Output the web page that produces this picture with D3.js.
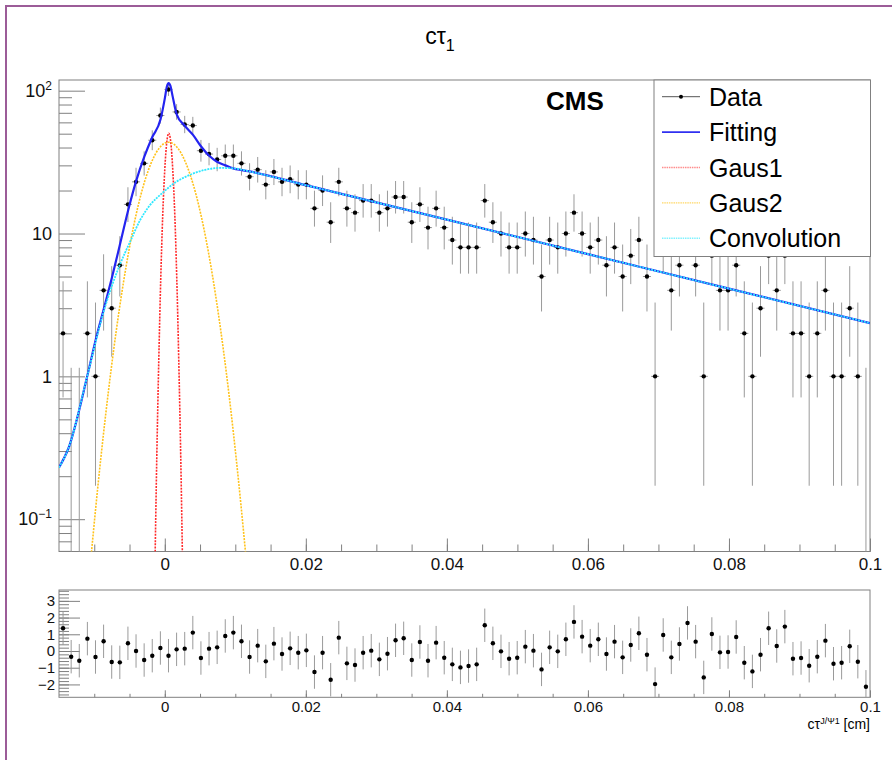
<!DOCTYPE html>
<html>
<head>
<meta charset="utf-8">
<script src="https://cdn.jsdelivr.net/npm/d3@7"></script>
<style>
  body { margin: 0; background: #fff; }
  svg { display: block; font-family: "Liberation Sans", Arial, Helvetica, sans-serif; }
</style>
</head>
<body>
<div id="chart"></div>
<script>

// histogram binning (100 bins)
var xMin = -0.015, xMax = 0.1, binWidth = 0.00115;

// events per bin
var counts = [2, 0, 0, 2, 1, 4, 3, 6, 16, 23,
              31, 45, 67, 102, 71, 58, 57, 38, 36, 33,
              35, 35, 31, 25, 28, 22, 27, 23, 24, 22,
              22, 15, 20, 12, 23, 15, 14, 17, 17, 14,
              15, 18, 18, 12, 16, 11, 15, 11, 9, 8,
              8, 8, 17, 12, 10, 8, 8, 10, 9, 5,
              9, 8, 10, 14, 10, 8, 9, 6, 8, 5,
              7, 9, 5, 1, 8, 4, 6, 10, 6, 1,
              7, 4, 4, 6, 2, 1, 3, 7, 4, 7,
              2, 2, 1, 2, 4, 1, 1, 3, 1, 0];

// pull per bin
var pulls = [1.36, -0.34, -0.58, 0.74, -0.36, 0.58, -0.66, -0.68, 0.46, 0.00,
             -0.54, -0.28, 0.18, -0.28, 0.10, 0.14, 1.10, -0.42, 0.14, 0.22,
             0.90, 1.10, 0.58, -0.36, 0.32, -0.62, 0.44, -0.18, 0.16, -0.10,
             0.04, -1.26, -0.10, -1.72, 0.80, -0.74, -0.84, -0.10, 0.02, -0.50,
             -0.16, 0.64, 0.76, -0.54, 0.54, -0.58, 0.50, -0.40, -0.80, -0.98,
             -0.90, -0.80, 1.54, 0.46, -0.02, -0.46, -0.40, 0.26, 0.02, -1.10,
             0.22, -0.02, 0.70, 1.74, 0.86, 0.32, 0.70, -0.18, 0.56, -0.38,
             0.36, 1.06, -0.22, -1.98, 0.96, -0.38, 0.42, 1.68, 0.56, -1.58,
             1.02, -0.08, -0.06, 0.84, -0.70, -1.22, -0.22, 1.36, 0.30, 1.46,
             -0.46, -0.42, -0.88, -0.34, 0.62, -0.76, -0.70, 0.28, -0.64, -2.14];

// curves [x, value]
var fittingCurve = [[-0.0150, 0.23], [-0.0137, 0.31], [-0.0110, 1.0], [-0.0098, 1.8], [-0.0087, 2.9],
                    [-0.0075, 4.9], [-0.0064, 8.2], [-0.0052, 14.5], [-0.0041, 23], [-0.0029, 34.5],
                    [-0.0018, 47], [-0.0006, 63], [0.0000, 88], [0.0003, 107], [0.00055, 113],
                    [0.0008, 108], [0.0011, 92], [0.0017, 68], [0.0028, 57], [0.0040, 49],
                    [0.0051, 41], [0.0063, 35], [0.0074, 31.8], [0.0086, 30], [0.0097, 28.6],
                    [0.0109, 27.8], [0.0120, 27.2], [0.02, 21.8], [0.04, 12.5], [0.06, 7.17],
                    [0.08, 4.11], [0.1, 2.36]];

var gaus1Curve = [[-0.00142, 0.039], [-0.00114, 0.262], [-0.00085, 1.31], [-0.00057, 4.87],
                  [-0.00029, 13.5], [0.0000, 28.1], [0.00028, 43.5], [0.000565, 50.4],
                  [0.00085, 43.5], [0.00113, 28.1], [0.00142, 13.5], [0.0017, 4.87],
                  [0.00198, 1.31], [0.00227, 0.262], [0.00255, 0.039]];

var gaus2Curve = [[-0.01082, 0.035], [-0.0094, 0.187], [-0.00798, 0.794], [-0.00656, 2.7],
                  [-0.00514, 7.35], [-0.00373, 16.0], [-0.00231, 27.9], [-0.00089, 39.0],
                  [0.00053, 43.6], [0.00195, 39.0], [0.00336, 27.9], [0.00478, 16.0],
                  [0.0062, 7.35], [0.00762, 2.7], [0.00904, 0.794], [0.01045, 0.187],
                  [0.01187, 0.035]];

var convCurve = [[-0.0150, 0.23], [-0.0137, 0.31], [-0.0110, 1.0], [-0.0087, 2.8], [-0.0075, 4.3],
                 [-0.0064, 6.0], [-0.0049, 8.8], [-0.0035, 12.4], [-0.0021, 15.8], [-0.0003, 19.3],
                 [0.0015, 22.8], [0.0036, 25.8], [0.0057, 27.9], [0.0078, 28.8], [0.0100, 28.5],
                 [0.0120, 27.2], [0.02, 21.8], [0.04, 12.5], [0.06, 7.17], [0.08, 4.11], [0.1, 2.36]];

// tick labels
var xTickValues = [0, 0.02, 0.04, 0.06, 0.08, 0.1];
var yLogTicks = [0.1, 1, 10, 100];
var yLogBase = ["10", "1", "10", "10"];
var yLogExp = ["\u22121", "", "", "2"];
var pullTicks = [-2, -1, 0, 1, 2, 3];

var legendNames = ["Data", "Fitting", "Gaus1", "Gaus2", "Convolution"];

var W = 892, H = 760;
var frameColor = "#808080";
var barColor = "#9a9a9a";

// pad geometry (avoid the global "top")
var padL = 59, padR = 870, padT = 80, padB = 551.5;
var pTop = 590, pBottom = 697.3;

var svg = d3.select("#chart").append("svg")
    .attr("width", W)
    .attr("height", H);

// canvas border
svg.append("path")
    .attr("d", "M6,760 L6,6 L892,6")
    .attr("fill", "none")
    .attr("stroke", "#9c5c98")
    .attr("stroke-width", 2);

// title
var title = svg.append("text")
    .attr("x", 440)
    .attr("y", 44)
    .attr("text-anchor", "middle")
    .attr("font-size", 23)
    .text("c\u03c4");
title.append("tspan")
    .attr("font-size", 16)
    .attr("dy", 7)
    .text("1");

// ---------- upper pad ----------
var x = d3.scaleLinear().domain([xMin, xMax]).range([padL, padR]);
var y = d3.scaleLog().domain([0.0594, 118.8]).range([padB, padT]);

svg.append("clipPath").attr("id", "clipTop")
  .append("rect")
    .attr("x", padL).attr("y", padT)
    .attr("width", padR - padL).attr("height", padB - padT);

// minor x ticks
svg.append("g")
    .attr("transform", "translate(0," + padB + ")")
    .call(d3.axisBottom(x)
        .tickValues(d3.range(-0.01, 0.1001, 0.005))
        .tickSize(-7)
        .tickFormat(""))
    .call(styleAxis);

// major x ticks + labels
svg.append("g")
    .attr("transform", "translate(0," + padB + ")")
    .call(d3.axisBottom(x)
        .tickValues(xTickValues)
        .tickSize(-13)
        .tickPadding(6)
        .tickFormat(d3.format("~g")))
    .call(styleAxis)
    .selectAll("text").attr("font-size", 17);

// minor y ticks
var yMinor = [];
[0.01, 0.1, 1, 10].forEach(function(dec) {
    for (var k = 2; k <= 9; k++) {
        var v = dec * k;
        if (v > 0.0594 && v < 118.8) yMinor.push(v);
    }
});
svg.append("g")
    .attr("transform", "translate(" + padL + ",0)")
    .call(d3.axisLeft(y)
        .tickValues(yMinor)
        .tickSize(-13)
        .tickFormat(""))
    .call(styleAxis);

// major y ticks + labels
var yAxisG = svg.append("g")
    .attr("transform", "translate(" + padL + ",0)")
    .call(d3.axisLeft(y)
        .tickValues(yLogTicks)
        .tickSize(-26)
        .tickPadding(7)
        .tickFormat(function(d, i) { return yLogBase[i]; }))
    .call(styleAxis);
yAxisG.selectAll("text")
    .attr("font-size", 18)
    .each(function(d, i) {
        if (yLogExp[i] != "") {
            d3.select(this).append("tspan")
                .attr("font-size", 12)
                .attr("dy", "-0.6em")
                .text(yLogExp[i]);
        }
    });

// frame
svg.append("rect")
    .attr("x", padL).attr("y", padT)
    .attr("width", padR - padL).attr("height", padB - padT)
    .attr("fill", "none")
    .attr("stroke", frameColor)
    .attr("stroke-width", 1);

// poisson interval (approximate Garwood, RooFit one-sided for zero)
function poissonLow(n) {
    if (n == 0) return 0;
    return n * Math.pow(1 - 1 / (9 * n) - 1 / (3 * Math.sqrt(n)), 3);
}
function poissonHigh(n) {
    if (n == 0) return 1.148;
    var m = n + 1;
    return m * Math.pow(1 - 1 / (9 * m) + 1 / (3 * Math.sqrt(m)), 3);
}

var bins = counts.map(function(c, i) {
    return { lo: xMin + i * binWidth, mid: xMin + (i + 0.5) * binWidth, hi: xMin + (i + 1) * binWidth, n: c, pull: pulls[i] };
});

var plot = svg.append("g").attr("clip-path", "url(#clipTop)");

// vertical error bars
plot.selectAll(".ebar")
    .data(bins)
    .enter().append("line")
    .attr("class", "ebar")
    .attr("x1", function(d) { return x(d.mid); })
    .attr("x2", function(d) { return x(d.mid); })
    .attr("y1", function(d) { return y(poissonHigh(d.n)); })
    .attr("y2", function(d) { return d.n == 0 ? padB + 5 : Math.min(y(poissonLow(d.n)), padB + 5); })
    .attr("stroke", barColor)
    .attr("stroke-width", 1);

// horizontal (bin width) bars
plot.selectAll(".hbar")
    .data(bins.filter(function(d) { return d.n > 0; }))
    .enter().append("line")
    .attr("class", "hbar")
    .attr("x1", function(d) { return x(d.lo); })
    .attr("x2", function(d) { return x(d.hi); })
    .attr("y1", function(d) { return y(d.n); })
    .attr("y2", function(d) { return y(d.n); })
    .attr("stroke", barColor)
    .attr("stroke-width", 1);

// markers
plot.selectAll(".dot")
    .data(bins.filter(function(d) { return d.n > 0; }))
    .enter().append("circle")
    .attr("class", "dot")
    .attr("cx", function(d) { return x(d.mid); })
    .attr("cy", function(d) { return y(d.n); })
    .attr("r", 2.2)
    .attr("fill", "#000");

// define the curve line
var curveLine = d3.line()
    .x(function(d) { return x(d[0]); })
    .y(function(d) { return y(d[1]); })
    .curve(d3.curveMonotoneX);

var styles = {
    fit:   { color: "#2424f0", width: 2.2, dash: null, legColor: "#3030f0" },
    gaus1: { color: "#ff2a2a", width: 1.6, dash: "2,1.2", legColor: "#ff8c8c" },
    gaus2: { color: "#ffc21a", width: 1.6, dash: "2,1.2", legColor: "#ffd866" },
    conv:  { color: "#2ee8ff", width: 1.8, dash: "2,1", legColor: "#80f2ff" }
};

function addCurve(data, st) {
    var p = plot.append("path")
        .datum(data)
        .attr("d", curveLine)
        .attr("fill", "none")
        .attr("stroke", st.color)
        .attr("stroke-width", st.width);
    if (st.dash) p.attr("stroke-dasharray", st.dash);
}

addCurve(fittingCurve, styles.fit);
addCurve(gaus1Curve, styles.gaus1);
addCurve(gaus2Curve, styles.gaus2);
addCurve(convCurve, styles.conv);

// CMS label
svg.append("text")
    .attr("x", 546)
    .attr("y", 110)
    .attr("font-size", 26)
    .attr("font-weight", "bold")
    .text("CMS");

// legend
var legX = 654, legY = 80, legW = 216.5, legH = 176.5;
var leg = svg.append("g");
leg.append("rect")
    .attr("x", legX).attr("y", legY)
    .attr("width", legW).attr("height", legH)
    .attr("fill", "#fff")
    .attr("stroke", frameColor)
    .attr("stroke-width", 1);

var legStyles = [null, styles.fit, styles.gaus1, styles.gaus2, styles.conv];
legendNames.forEach(function(name, i) {
    var cy = 96.7 + i * 35.4;
    var ln = leg.append("line")
        .attr("x1", 662).attr("x2", 700)
        .attr("y1", cy).attr("y2", cy);
    if (i == 0) {
        ln.attr("stroke", "#555").attr("stroke-width", 1);
        leg.append("circle").attr("cx", 681).attr("cy", cy).attr("r", 2).attr("fill", "#000");
    } else {
        var st = legStyles[i];
        ln.attr("stroke", st.legColor)
          .attr("stroke-width", i == 1 ? 1.6 : 1.4);
        if (st.dash) ln.attr("stroke-dasharray", "1.5,0.8");
    }
    leg.append("text")
        .attr("x", 709)
        .attr("y", cy + 9)
        .attr("font-size", 25)
        .text(name);
});

// ---------- lower pad (pulls) ----------
var yp = d3.scaleLinear().domain([-2.77, 3.65]).range([pBottom, pTop]);

svg.append("clipPath").attr("id", "clipBot")
  .append("rect")
    .attr("x", padL).attr("y", pTop)
    .attr("width", padR - padL).attr("height", pBottom - pTop);

svg.append("g")
    .attr("transform", "translate(0," + pBottom + ")")
    .call(d3.axisBottom(x)
        .tickValues(d3.range(-0.01, 0.1001, 0.005))
        .tickSize(-3.5)
        .tickFormat(""))
    .call(styleAxis);

svg.append("g")
    .attr("transform", "translate(0," + pBottom + ")")
    .call(d3.axisBottom(x)
        .tickValues(xTickValues)
        .tickSize(-7)
        .tickPadding(4)
        .tickFormat(d3.format("~g")))
    .call(styleAxis)
    .selectAll("text").attr("font-size", 15);

svg.append("g")
    .attr("transform", "translate(" + padL + ",0)")
    .call(d3.axisLeft(yp)
        .tickValues(d3.range(-2.6, 3.61, 0.2))
        .tickSize(-10)
        .tickFormat(""))
    .call(styleAxis);

svg.append("g")
    .attr("transform", "translate(" + padL + ",0)")
    .call(d3.axisLeft(yp)
        .tickValues(pullTicks)
        .tickSize(-21)
        .tickPadding(4)
        .tickFormat(d3.format("d")))
    .call(styleAxis)
    .selectAll("text").attr("font-size", 15);

svg.append("rect")
    .attr("x", padL).attr("y", pTop)
    .attr("width", padR - padL).attr("height", pBottom - pTop)
    .attr("fill", "none")
    .attr("stroke", frameColor)
    .attr("stroke-width", 1);

var pplot = svg.append("g").attr("clip-path", "url(#clipBot)");

pplot.selectAll(".pbar")
    .data(bins)
    .enter().append("line")
    .attr("class", "pbar")
    .attr("x1", function(d) { return x(d.mid); })
    .attr("x2", function(d) { return x(d.mid); })
    .attr("y1", function(d) { return yp(d.pull + 1); })
    .attr("y2", function(d) { return yp(d.pull - 1); })
    .attr("stroke", barColor)
    .attr("stroke-width", 1);

pplot.selectAll(".pdot")
    .data(bins)
    .enter().append("circle")
    .attr("class", "pdot")
    .attr("cx", function(d) { return x(d.mid); })
    .attr("cy", function(d) { return yp(d.pull); })
    .attr("r", 2.2)
    .attr("fill", "#000");

// x axis title
var xt = svg.append("text")
    .attr("x", padR)
    .attr("y", 729)
    .attr("text-anchor", "end")
    .attr("font-size", 14);
xt.append("tspan").text("c\u03c4");
xt.append("tspan").attr("font-size", 9).attr("dy", -5).text("J/\u03a81");
xt.append("tspan").attr("dy", 5).text(" [cm]");

// axis styling, ROOT-like grey lines
function styleAxis(g) {
    g.select(".domain").remove();
    g.selectAll(".tick line").attr("stroke", frameColor);
    g.selectAll("text")
        .attr("fill", "#111")
        .attr("font-family", "'Liberation Sans', Arial, sans-serif");
}

</script>
</body>
</html>
